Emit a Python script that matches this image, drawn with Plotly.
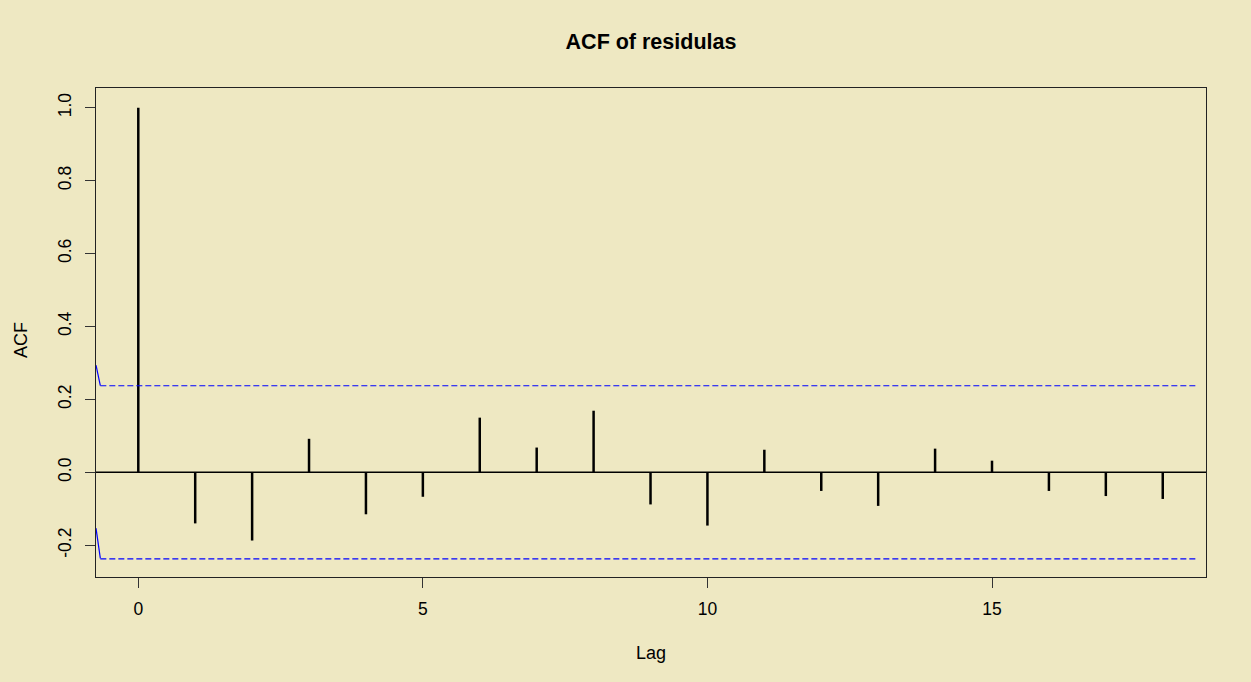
import plotly.graph_objects as go

# ---- data ----
lags = list(range(0, 19))
acf_values = [1.0, -0.140, -0.187, 0.092, -0.115, -0.067, 0.150, 0.068, 0.169,
              -0.088, -0.146, 0.062, -0.051, -0.092, 0.065, 0.032, -0.051, -0.065, -0.073]
ci_level = 0.2375
ci_lag_span = [-0.667, 18.62]
ci_edge_lag = [-0.743, -0.667]
ci_edge_upper = [0.294, 0.2375]
ci_edge_lower = [-0.153, -0.236]
x_ticks = [0, 5, 10, 15]
y_ticks = [-0.2, 0.0, 0.2, 0.4, 0.6, 0.8, 1.0]
y_tick_labels = ["-0.2", "0.0", "0.2", "0.4", "0.6", "0.8", "1.0"]

BG = "#EEE8C2"
FONT = "Liberation Sans, Arial, sans-serif"

fig = go.Figure()

# ACF spikes
sx, sy = [], []
for l, v in zip(lags, acf_values):
    sx += [l, l, None]
    sy += [0, v, None]
fig.add_trace(go.Scatter(x=sx, y=sy, mode="lines",
                         line=dict(color="black", width=2.5), hoverinfo="skip"))

# confidence limits
for lvl in (ci_level, -ci_level):
    fig.add_trace(go.Scatter(x=ci_lag_span, y=[lvl, lvl], mode="lines",
                             line=dict(color="#0000FF", width=1.2, dash="6px,3px"),
                             hoverinfo="skip"))
for ys in (ci_edge_upper, ci_edge_lower):
    fig.add_trace(go.Scatter(x=ci_edge_lag, y=ys, mode="lines",
                             line=dict(color="#0000FF", width=1.2), hoverinfo="skip"))

# zero line
fig.add_shape(type="line", xref="paper", yref="y", x0=0, x1=1, y0=0, y1=0,
              line=dict(color="black", width=1.5), layer="below")

fig.update_layout(
    width=1251, height=682,
    margin=dict(l=96, r=45, t=88, b=105),
    paper_bgcolor=BG, plot_bgcolor=BG,
    showlegend=False,
    font=dict(family=FONT, color="black", size=17.5),
    title=dict(text="<b>ACF of residulas</b>", x=(96 + 1206) / 2 / 1251, xanchor="center",
               y=1 - 41 / 682, yanchor="middle", yref="container",
               font=dict(family=FONT, size=21.5, color="black")),
    xaxis=dict(range=[-0.743, 18.76], tickvals=x_ticks, ticks="outside", ticklen=10,
               tickcolor="#333333", tickwidth=1, showgrid=False, zeroline=False,
               showline=True, linecolor="#222222", linewidth=1.2, mirror=True,
               ticklabelstandoff=6),
    yaxis=dict(range=[-0.287, 1.054], tickvals=y_ticks, ticktext=y_tick_labels,
               tickangle=-90, ticks="outside", ticklen=10, tickcolor="#333333",
               tickwidth=1, showgrid=False, zeroline=False,
               showline=True, linecolor="#222222", linewidth=1.2, mirror=True,
               ticklabelstandoff=7),
    annotations=[
        dict(text="Lag", xref="paper", yref="paper", x=0.5, y=-(653 - 577) / 489,
             xanchor="center", yanchor="middle", showarrow=False,
             font=dict(family=FONT, size=18, color="black")),
        dict(text="ACF", xref="paper", yref="paper", x=(21 - 96) / 1110, y=1 - (340 - 88) / 489,
             xanchor="center", yanchor="middle", textangle=-90, showarrow=False,
             font=dict(family=FONT, size=18, color="black")),
    ],
)

fig.write_html("out.html", config={"displayModeBar": False},
               post_script="document.body.style.margin='0';")
